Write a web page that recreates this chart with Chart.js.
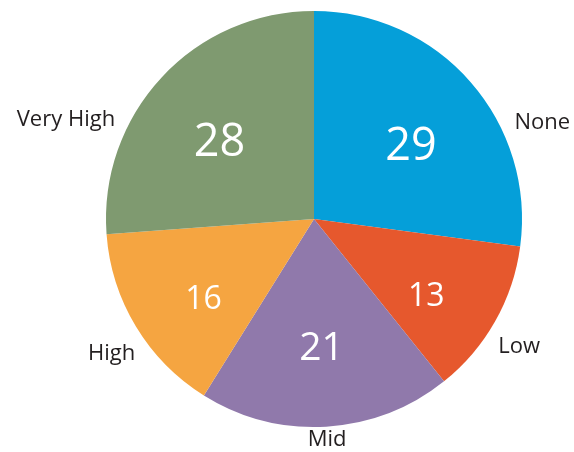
<!DOCTYPE html>
<html>
<head>
<meta charset="utf-8">
<script src="https://cdn.jsdelivr.net/npm/chart.js@4"></script>
<style>
  html, body { margin: 0; padding: 0; background: #fff; }
  canvas { display: block; }
</style>
</head>
<body>
<canvas id="pieChart" width="574" height="452"></canvas>
<script>
const labels = ['None', 'Low', 'Mid', 'High', 'Very High'];
const values = [29, 13, 21, 16, 28];
const colors = ['#059fd9', '#e6582d', '#9079ab', '#f5a541', '#7f9a70'];

// numbers inside the slices, names outside
const sliceText = {
  id: 'sliceText',
  afterDatasetsDraw(chart) {
    const ctx = chart.ctx;
    const meta = chart.getDatasetMeta(0);
    meta.data.forEach((arc, i) => {
      const { startAngle, endAngle, x, y, outerRadius } =
        arc.getProps(['startAngle', 'endAngle', 'x', 'y', 'outerRadius'], true);
      const mid = (startAngle + endAngle) / 2;
      // angle from the top, clockwise
      const t = mid + Math.PI / 2;
      const s = Math.sin(t), c = Math.cos(t);

      // value
      const v = values[i];
      const size = v >= 25 ? 45 : v >= 20 ? 39 : 32;
      const rIn = outerRadius * 0.62;
      ctx.save();
      ctx.fillStyle = '#ffffff';
      ctx.font = size + 'px "Open Sans"';
      ctx.textAlign = 'center';
      ctx.textBaseline = 'middle';
      ctx.fillText(String(v), x + rIn * s, y - rIn * c + 17 * Math.abs(s));

      // category name
      const rOut = outerRadius + 16;
      ctx.fillStyle = '#231f20';
      ctx.font = '22px "Open Sans"';
      if (Math.abs(s) > 0.3) {
        const k = c > 0 ? 0.65 : 1.16;
        const gap = c > 0 ? 16 : 20;
        const ly = y - rOut * c * k;
        const dy = ly - y;
        const edge = Math.sqrt(Math.max(0, outerRadius * outerRadius - dy * dy));
        ctx.textAlign = s > 0 ? 'left' : 'right';
        ctx.fillText(labels[i], x + Math.sign(s) * (edge + gap), ly);
      } else {
        ctx.textAlign = 'center';
        ctx.fillText(labels[i], x + rOut * s, y - rOut * c - 3);
      }
      ctx.restore();
    });
  }
};

new Chart(document.getElementById('pieChart').getContext('2d'), {
  type: 'pie',
  data: {
    labels: labels,
    datasets: [{
      data: values,
      backgroundColor: colors,
      borderWidth: 0,
      hoverOffset: 0
    }]
  },
  options: {
    responsive: false,
    animation: false,
    layout: { padding: { top: 11, bottom: 25, left: 100, right: 46 } },
    plugins: {
      legend: { display: false },
      tooltip: { enabled: false }
    }
  },
  plugins: [sliceText]
});
</script>
</body>
</html>
